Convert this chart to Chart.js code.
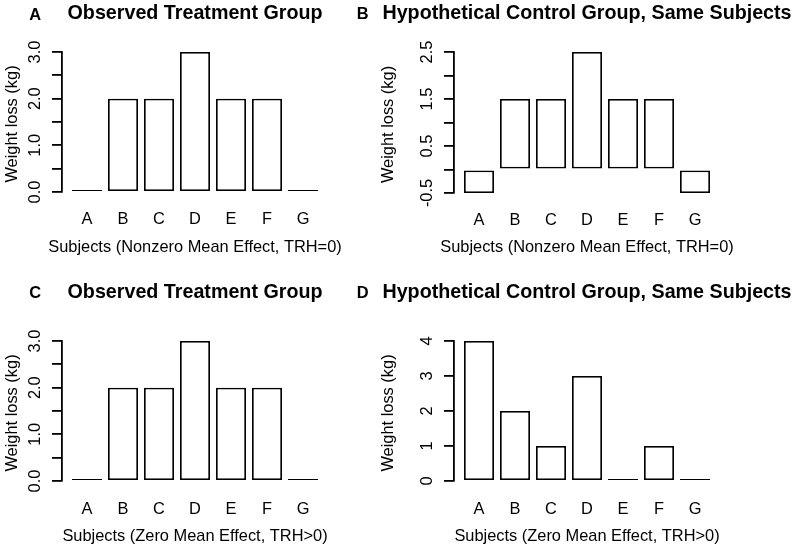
<!DOCTYPE html>
<html>
<head>
<meta charset="utf-8">
<script src="https://cdn.jsdelivr.net/npm/chart.js@4/dist/chart.umd.min.js"></script>
<style>
  html, body { margin: 0; padding: 0; background: #ffffff; }
  #wrap { position: relative; width: 797px; height: 548px; background: #ffffff; overflow: hidden; }
  canvas { position: absolute; }
</style>
</head>
<body>
<div id="wrap">
  <canvas id="cA" width="350" height="274" style="left:0px;top:0px"></canvas>
  <canvas id="cB" width="447" height="274" style="left:350px;top:0px"></canvas>
  <canvas id="cC" width="350" height="274" style="left:0px;top:274px"></canvas>
  <canvas id="cD" width="447" height="274" style="left:350px;top:274px"></canvas>
</div>
<script>
// ---------------- data ----------------
const subjects = ['A', 'B', 'C', 'D', 'E', 'F', 'G'];

const lossA = [0, 2, 2, 3, 2, 2, 0];                 // Observed treatment (nonzero mean effect)
const lossB = [-0.5, 1.5, 1.5, 2.5, 1.5, 1.5, -0.5]; // Hypothetical control (nonzero mean effect)
const lossC = [0, 2, 2, 3, 2, 2, 0];                 // Observed treatment (zero mean effect)
const lossD = [4, 2, 1, 3, 0, 1, 0];                 // Hypothetical control (zero mean effect)

const ticksA = [0, 0.5, 1, 1.5, 2, 2.5, 3];
const labelsA = [0, 1, 2, 3];
const ticksB = [-0.5, 0, 0.5, 1, 1.5, 2, 2.5];
const labelsB = [-0.5, 0.5, 1.5, 2.5];
const ticksC = [0, 0.5, 1, 1.5, 2, 2.5, 3];
const labelsC = [0, 1, 2, 3];
const ticksD = [0, 1, 2, 3, 4];
const labelsD = [0, 1, 2, 3, 4];

const titleTreat = 'Observed Treatment Group';
const titleControl = 'Hypothetical Control Group, Same Subjects';
const yTitle = 'Weight loss (kg)';
const xTitleNonzero = 'Subjects (Nonzero Mean Effect, TRH=0)';
const xTitleZero = 'Subjects (Zero Mean Effect, TRH>0)';

// ---------------- styling ----------------
const FONT = '"Liberation Sans", Arial, Helvetica, sans-serif';
const AXIS_SIZE = 16.4;
const MAIN_SIZE = 19.7;
const LW = 1.8;

// Draws panel letter, main title, axis titles and rotated y tick labels
// (tick label positions come from the chart's own y scale).
const panelTextPlugin = {
  id: 'panelText',
  afterDraw(chart, args, o) {
    const ctx = chart.ctx;
    const ca = chart.chartArea;
    const yScale = chart.scales.y;
    const cx = (ca.left + ca.right) / 2;
    const cy = (ca.top + ca.bottom) / 2;
    ctx.save();
    ctx.fillStyle = '#000';

    ctx.textBaseline = 'alphabetic';
    ctx.textAlign = 'left';
    ctx.font = 'bold ' + AXIS_SIZE + 'px ' + FONT;
    ctx.fillText(o.letter, o.letterX, o.letterBaseline);

    ctx.font = 'bold ' + MAIN_SIZE + 'px ' + FONT;
    ctx.textAlign = 'center';
    ctx.fillText(o.title, cx, o.titleBaseline);

    ctx.font = AXIS_SIZE + 'px ' + FONT;
    ctx.fillText(o.xTitle, cx, o.xTitleBaseline);

    ctx.save();
    ctx.translate(o.yTitleBaseline, cy + 2);
    ctx.rotate(-Math.PI / 2);
    ctx.textAlign = 'center';
    ctx.textBaseline = 'alphabetic';
    ctx.fillText(yTitle, 0, 0);
    ctx.restore();

    yScale.ticks.forEach((t) => {
      if (!o.yLabeled.some(l => Math.abs(l - t.value) < 1e-9)) return;
      const py = yScale.getPixelForValue(t.value);
      ctx.save();
      ctx.translate(ca.left - o.yTickOffset, py);
      ctx.rotate(-Math.PI / 2);
      ctx.textAlign = 'center';
      ctx.textBaseline = 'middle';
      ctx.fillText(o.fmt(t.value), 0, 0);
      ctx.restore();
    });
    ctx.restore();
  }
};

function makePanel(canvasId, values, yTicks, cfg) {
  const el = document.getElementById(canvasId);
  const W = el.width, H = el.height;
  const chartWidth = 266;
  const yScaleWidth = 40;
  const xScaleHeight = 40;
  return new Chart(el, {
    type: 'bar',
    data: {
      datasets: [{
        data: subjects.map((s, i) => ({ x: i, y: values[i] })),
        backgroundColor: '#ffffff',
        borderColor: '#000000',
        borderWidth: LW,
        borderSkipped: false,
        minBarLength: 2,
        barPercentage: 30 / 36,
        categoryPercentage: 1,
        clip: false
      }]
    },
    options: {
      responsive: false,
      animation: false,
      devicePixelRatio: 1,
      layout: {
        padding: {
          left: cfg.chartLeft - yScaleWidth,
          right: W - cfg.chartLeft - chartWidth,
          top: cfg.chartTop,
          bottom: H - cfg.chartBottom - xScaleHeight
        }
      },
      plugins: {
        legend: { display: false },
        tooltip: { enabled: false },
        title: { display: false },
        panelText: cfg.text
      },
      scales: {
        x: {
          type: 'linear',
          offset: false,
          min: -0.6944,
          max: subjects.length - 1 + 0.6944,
          grid: { display: false, drawTicks: false, offset: false },
          border: { display: false },
          afterBuildTicks: (scale) => { scale.ticks = subjects.map((s, i) => ({ value: i })); },
          afterFit: (scale) => { scale.height = xScaleHeight; },
          ticks: {
            autoSkip: false,
            maxRotation: 0,
            minRotation: 0,
            padding: cfg.xTickPadding,
            color: '#000',
            font: { family: FONT, size: AXIS_SIZE },
            callback: (v, i) => subjects[i]
          },
          title: { display: false }
        },
        y: {
          type: 'linear',
          min: yTicks[0],
          max: yTicks[yTicks.length - 1],
          afterBuildTicks: (scale) => { scale.ticks = yTicks.map(v => ({ value: v })); },
          afterFit: (scale) => { scale.width = yScaleWidth; },
          grid: {
            display: true,
            drawOnChartArea: false,
            drawTicks: true,
            tickLength: 10,
            color: '#000',
            lineWidth: LW
          },
          border: { display: true, color: '#000', width: LW },
          ticks: { display: false, autoSkip: false },
          title: { display: false }
        }
      }
    },
    plugins: [panelTextPlugin]
  });
}

const fmt1 = v => v.toFixed(1);
const fmt0 = v => String(Math.round(v));

makePanel('cA', lossA, ticksA, {
  chartLeft: 62, chartTop: 52, chartBottom: 192, xTickPadding: 17.5,
  text: { letter: 'A', title: titleTreat, xTitle: xTitleNonzero, letterX: 29.3, letterBaseline: 20,
          titleBaseline: 19.3, xTitleBaseline: 251.5, yTitleBaseline: 17.3, yTickOffset: 26.5,
          yLabeled: labelsA, fmt: fmt1 }
});
makePanel('cB', lossB, ticksB, {
  chartLeft: 104, chartTop: 52, chartBottom: 193, xTickPadding: 17.5,
  text: { letter: 'B', title: titleControl, xTitle: xTitleNonzero, letterX: 6.7, letterBaseline: 18.8,
          titleBaseline: 19.3, xTitleBaseline: 251.5, yTitleBaseline: 42.5, yTickOffset: 26.5,
          yLabeled: labelsB, fmt: fmt1 }
});
makePanel('cC', lossC, ticksC, {
  chartLeft: 62, chartTop: 67, chartBottom: 207, xTickPadding: 18.5,
  text: { letter: 'C', title: titleTreat, xTitle: xTitleZero, letterX: 29.3, letterBaseline: 23.5,
          titleBaseline: 23.5, xTitleBaseline: 266.5, yTitleBaseline: 17.3, yTickOffset: 26.5,
          yLabeled: labelsC, fmt: fmt1 }
});
makePanel('cD', lossD, ticksD, {
  chartLeft: 104, chartTop: 67, chartBottom: 207, xTickPadding: 18.5,
  text: { letter: 'D', title: titleControl, xTitle: xTitleZero, letterX: 6.7, letterBaseline: 23.5,
          titleBaseline: 23.5, xTitleBaseline: 266.5, yTitleBaseline: 42.5, yTickOffset: 26.5,
          yLabeled: labelsD, fmt: fmt0 }
});
</script>
</body>
</html>
